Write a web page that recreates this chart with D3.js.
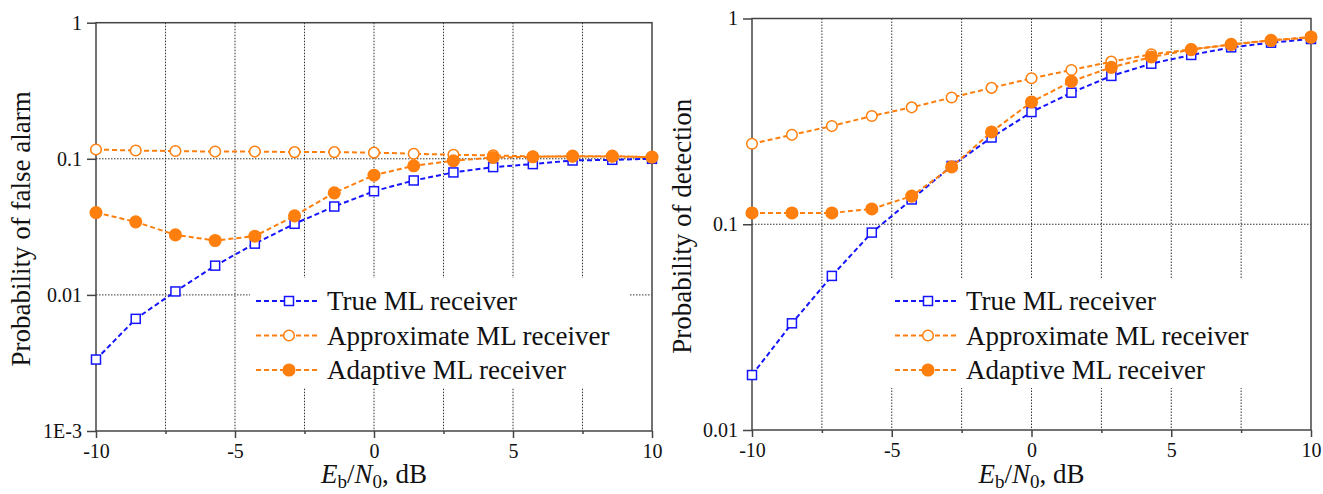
<!DOCTYPE html>
<html>
<head>
<meta charset="utf-8">
<script src="https://cdn.jsdelivr.net/npm/d3@7"></script>
<style>
  body { margin: 0; background: #fff; }
  svg text { font-family: "Liberation Serif", "Times New Roman", Times, "DejaVu Serif", serif !important; fill: #111; }
</style>
</head>
<body>
<svg id="chart" width="1323" height="494"></svg>
<script>
// Eb/N0 sample points (dB)
const snr = [-10, -8.571, -7.143, -5.714, -4.286, -2.857, -1.429, 0, 1.429, 2.857, 4.286, 5.714, 7.143, 8.571, 10]

// probability of false alarm
const pfaTrue     = [0.00335, 0.00667, 0.0106, 0.0164, 0.0238, 0.0333, 0.0446, 0.0578, 0.0693, 0.0794, 0.0869, 0.0914, 0.0972, 0.0983, 0.1]
const pfaApprox   = [0.117, 0.115, 0.114, 0.113, 0.113, 0.112, 0.112, 0.111, 0.109, 0.107, 0.106, 0.104, 0.104, 0.104, 0.103]
const pfaAdaptive = [0.0403, 0.0344, 0.0276, 0.0251, 0.0270, 0.0381, 0.0562, 0.0758, 0.0888, 0.0967, 0.1023, 0.1034, 0.1046, 0.1046, 0.1028]

// probability of detection
const pdTrue     = [0.0185, 0.0330, 0.0561, 0.0911, 0.132, 0.192, 0.264, 0.351, 0.436, 0.526, 0.603, 0.665, 0.724, 0.763, 0.795]
const pdApprox   = [0.246, 0.272, 0.300, 0.336, 0.370, 0.413, 0.460, 0.512, 0.562, 0.617, 0.670, 0.708, 0.746, 0.783, 0.807]
const pdAdaptive = [0.1135, 0.1135, 0.1135, 0.1187, 0.137, 0.190, 0.281, 0.393, 0.495, 0.579, 0.650, 0.706, 0.749, 0.783, 0.813]

const seriesNames = ["True ML receiver", "Approximate ML receiver", "Adaptive ML receiver"]

// axis ticks
const xTicks = [-10, -5, 0, 5, 10]
const xTickLabels = ["-10", "-5", "0", "5", "10"]
const xGrid = [-7.5, -5, -2.5, 0, 2.5, 5, 7.5]
const pfaTicks = [1e-3, 1e-2, 1e-1, 1]
const pfaTickLabels = ["1E-3", "0.01", "0.1", "1"]
const pdTicks = [1e-2, 1e-1, 1]
const pdTickLabels = ["0.01", "0.1", "1"]

const serif = "'Liberation Serif', 'Times New Roman', Times, 'DejaVu Serif', serif"
const svg = d3.select("#chart")

const styles = [
  { color: "#1414ff", marker: "square" },
  { color: "#ff7f0e", marker: "open" },
  { color: "#ff7f0e", marker: "filled" }
]

function drawMarker(sel, kind, color) {
  if (kind == "square") {
    sel.append("rect")
      .attr("x", -4.5).attr("y", -4.5)
      .attr("width", 9).attr("height", 9)
      .attr("fill", "#fff").attr("stroke", color).attr("stroke-width", 1.5)
  } else {
    sel.append("circle")
      .attr("r", kind == "open" ? 5.3 : 5.8)
      .attr("fill", kind == "open" ? "#fff" : color)
      .attr("stroke", color).attr("stroke-width", 1.5)
  }
}

function drawPanel(p) {
  const g = svg.append("g")
  const x = d3.scaleLinear().domain([-10, 10]).range([p.left, p.right])
  const y = d3.scaleLog().domain([p.ticks[0], 1]).range([p.bottom, p.top])

  // grid
  g.selectAll(".vg").data(xGrid).join("line")
    .attr("x1", d => x(d)).attr("x2", d => x(d))
    .attr("y1", p.top).attr("y2", p.bottom)
    .attr("stroke", "#333").attr("stroke-width", 1).attr("stroke-dasharray", "1.5,1.5")
  g.selectAll(".hg").data(p.ticks.slice(1, -1)).join("line")
    .attr("x1", p.left).attr("x2", p.right)
    .attr("y1", d => y(d)).attr("y2", d => y(d))
    .attr("stroke", "#333").attr("stroke-width", 1).attr("stroke-dasharray", "1.5,1.5")

  // legend background hides the grid
  g.append("rect")
    .attr("x", p.legX - 6).attr("y", 278)
    .attr("width", p.right - 23 - (p.legX - 6)).attr("height", 110)
    .attr("fill", "#fff")

  // frame
  g.append("rect")
    .attr("x", p.left).attr("y", p.top)
    .attr("width", p.right - p.left).attr("height", p.bottom - p.top)
    .attr("fill", "none").attr("stroke", "#444").attr("stroke-width", 1.5)

  // axes
  const yAxis = g.append("g")
    .attr("transform", `translate(${p.left},0)`)
    .call(d3.axisLeft(y).tickValues(p.ticks).tickFormat((d, i) => p.tickLabels[i]).tickSize(9).tickPadding(5))
  const xAxis = g.append("g")
    .attr("transform", `translate(0,${p.bottom})`)
    .call(d3.axisBottom(x).tickValues(xTicks).tickFormat((d, i) => xTickLabels[i]).tickSize(7).tickPadding(6))
  g.append("g")
    .attr("transform", `translate(0,${p.bottom})`)
    .call(d3.axisBottom(x).tickValues([-7.5, -2.5, 2.5, 7.5]).tickFormat("").tickSize(3))
    .call(a => a.select(".domain").remove())
  ;[yAxis, xAxis].forEach(a => {
    a.attr("font-family", serif)
    a.select(".domain").remove()
    a.selectAll("text").attr("font-size", 20).attr("fill", "#111")
  })
  g.selectAll(".tick line").attr("stroke", "#444").attr("stroke-width", 1.5)

  // series
  const line = d3.line().x((d, i) => x(snr[i])).y(d => y(d))
  p.series.forEach((vals, k) => {
    const st = styles[k]
    g.append("path")
      .attr("d", line(vals))
      .attr("fill", "none").attr("stroke", st.color)
      .attr("stroke-width", 2).attr("stroke-dasharray", "5,3")
    vals.forEach((v, i) => {
      const m = g.append("g").attr("transform", `translate(${x(snr[i])},${y(v)})`)
      drawMarker(m, st.marker, st.color)
    })
  })

  // legend
  seriesNames.forEach((name, k) => {
    const st = styles[k]
    const ly = 301 + k * 34.5
    g.append("line")
      .attr("x1", p.legX).attr("x2", p.legX + 62)
      .attr("y1", ly).attr("y2", ly)
      .attr("stroke", st.color).attr("stroke-width", 2).attr("stroke-dasharray", "5,3")
    const m = g.append("g").attr("transform", `translate(${p.legX + 33},${ly})`)
    drawMarker(m, st.marker, st.color)
    g.append("text")
      .attr("x", p.legX + 71).attr("y", ly + 9)
      .attr("font-family", serif)
      .attr("font-size", 27)
      .text(name)
  })

  // axis titles
  g.append("text")
    .attr("transform", `translate(${p.yTitleX},${(p.top + p.bottom) / 2 + 2}) rotate(-90)`)
    .attr("text-anchor", "middle")
    .attr("font-family", serif)
    .attr("font-size", 27)
    .text(p.yTitle)

  const xt = g.append("text")
    .attr("x", (p.left + p.right) / 2).attr("y", 483)
    .attr("text-anchor", "middle")
    .attr("font-family", serif)
    .attr("font-size", 27)
  xt.append("tspan").attr("font-style", "italic").text("E")
  xt.append("tspan").attr("font-size", 19).attr("dy", 5).text("b")
  xt.append("tspan").attr("dy", -5).text("/")
  xt.append("tspan").attr("font-style", "italic").text("N")
  xt.append("tspan").attr("font-size", 19).attr("dy", 5).text("0")
  xt.append("tspan").attr("dy", -5).text(", dB")
}

drawPanel({
  left: 96, right: 652, top: 22.7, bottom: 431,
  ticks: pfaTicks, tickLabels: pfaTickLabels,
  series: [pfaTrue, pfaApprox, pfaAdaptive],
  legX: 256, yTitleX: 30,
  yTitle: "Probability of false alarm"
})

drawPanel({
  left: 752, right: 1311, top: 18.5, bottom: 430,
  ticks: pdTicks, tickLabels: pdTickLabels,
  series: [pdTrue, pdApprox, pdAdaptive],
  legX: 895, yTitleX: 691,
  yTitle: "Probability of detection"
})
</script>
</body>
</html>
